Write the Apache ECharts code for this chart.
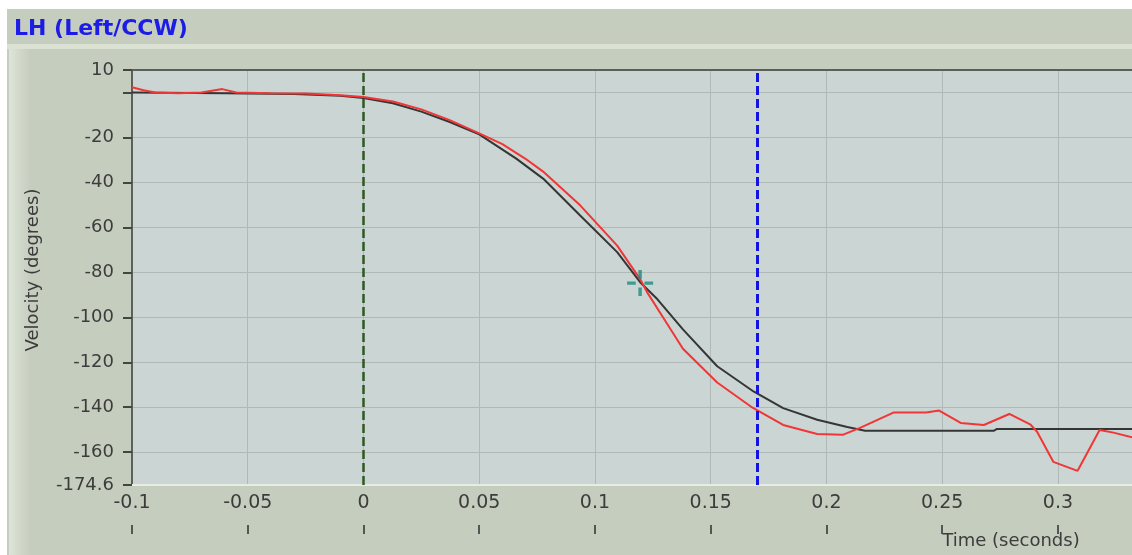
<!DOCTYPE html>
<html>
<head>
<meta charset="utf-8">
<script src="https://cdn.jsdelivr.net/npm/echarts@6/dist/echarts.min.js"></script>
<style>html,body{margin:0;padding:0;background:#fff;}#c{width:1132px;height:555px;}</style>
</head>
<body>
<div id="c"></div>
<script>
// ---- data ----
const redT = [-0.1, -0.095, -0.09, -0.08, -0.07, -0.061, -0.055, -0.04, -0.025, -0.01, 0, 0.0127, 0.025, 0.037, 0.05, 0.06, 0.07, 0.0776, 0.0936, 0.1096, 0.1195, 0.1225, 0.13, 0.138, 0.1528, 0.1675, 0.1813, 0.196, 0.207, 0.2145, 0.2289, 0.243, 0.2487, 0.258, 0.268, 0.279, 0.288, 0.291, 0.298, 0.3085, 0.318, 0.324, 0.332];
const redV = [2.3, 1, 0, -0.3, 0, 1.5, 0, -0.3, -0.5, -1.2, -2, -4, -7.5, -12.2, -18.2, -23, -29.5, -35.2, -50.2, -68.1, -83, -88.8, -101, -114, -129, -139.8, -147.9, -151.9, -152.3, -149.2, -142.4, -142.4, -141.5, -147, -147.9, -143, -147.6, -150.9, -164.3, -168.3, -150.1, -151.3, -153.4];
const blackT = [-0.1, -0.06, -0.03, -0.01, 0, 0.0127, 0.025, 0.037, 0.05, 0.066, 0.0776, 0.0936, 0.1096, 0.1195, 0.127, 0.138, 0.1528, 0.1685, 0.1813, 0.196, 0.209, 0.2167, 0.2722, 0.2735, 0.332];
const blackV = [0, -0.3, -0.7, -1.5, -2.5, -4.8, -8.5, -13, -18.6, -29.4, -38.3, -54.7, -71, -84.4, -92, -105.4, -121.8, -133, -140.4, -145.6, -148.8, -150.5, -150.5, -149.7, -149.7];
const cursorPoint = [0.1195, -84.8];
const markerLines = [0, 0.17];          // green (t=0), blue (cursor)
const xTicks = [-0.1, -0.05, 0, 0.05, 0.1, 0.15, 0.2, 0.25, 0.3];
const xRange = [-0.1, 0.332];
const yRange = [-174.6, 10];
const titleText = 'LH (Left/CCW)';
const xName = 'Time (seconds)';
const yName = 'Velocity (degrees)';

const redData = redT.map((t, i) => [t, redV[i]]);
const blackData = blackT.map((t, i) => [t, blackV[i]]);

const chart = echarts.init(document.getElementById('c'));
const FONT = 'DejaVu Sans';
const gridCol = '#b1b9b7';

chart.setOption({
  animation: false,
  backgroundColor: '#c5cdbf',
  grid: {
    left: 132, right: 0, top: 70, bottom: 70,
    show: true, backgroundColor: '#cbd5d3', borderWidth: 0,
    containLabel: false, outerBoundsMode: 'none'
  },
  graphic: { elements: [
    { type: 'rect', shape: { x: 0, y: 0, width: 1132, height: 9 }, style: { fill: '#ffffff' }, silent: true },
    { type: 'rect', shape: { x: 0, y: 0, width: 7, height: 555 }, style: { fill: '#ffffff' }, silent: true },
    { type: 'rect', shape: { x: 7, y: 44, width: 1125, height: 5 }, style: { fill: '#dbe2d3' }, silent: true },
    { type: 'rect', shape: { x: 9, y: 49, width: 22, height: 506 }, silent: true,
      style: { fill: new echarts.graphic.LinearGradient(0, 0, 1, 0, [
        { offset: 0, color: '#dde4d8' }, { offset: 1, color: '#c5cdbf' }]) } },
    { type: 'text', x: 14, y: 29, silent: true,
      style: { text: titleText, font: 'bold 22px "DejaVu Sans"', fill: '#1c1ce6', align: 'left', verticalAlign: 'middle' } },
    { type: 'text', x: 1011, y: 541, silent: true,
      style: { text: xName, font: '18px "DejaVu Sans"', fill: '#3c3c3c', align: 'center', verticalAlign: 'middle' } },
    { type: 'text', x: 33, y: 270, rotation: Math.PI / 2, silent: true,
      style: { text: yName, font: '18px "DejaVu Sans"', fill: '#3c3c3c', align: 'center', verticalAlign: 'middle' } }
  ] },
  xAxis: [
    {
      type: 'value', min: xRange[0], max: xRange[1], interval: 0.05, position: 'bottom',
      axisLine: { show: true, onZero: false, lineStyle: { color: '#e6ece4', width: 2 } },
      axisTick: { show: false },
      axisLabel: {
        margin: 9, fontSize: 19, fontFamily: FONT, color: '#3c3c3c', showMaxLabel: false,
        formatter: v => (xTicks.some(t => Math.abs(t - v) < 1e-6) ? String(Math.round(v * 100) / 100) : '')
      },
      splitLine: { show: true, lineStyle: { color: gridCol, width: 1 } }
    },
    {
      type: 'value', min: xRange[0], max: xRange[1], interval: 0.05, position: 'bottom', offset: 40,
      axisLine: { show: false, onZero: false },
      axisTick: { show: true, length: 9, customValues: xTicks, lineStyle: { color: '#555', width: 2 } },
      axisLabel: { show: false },
      splitLine: { show: false }
    },
    {
      type: 'value', min: xRange[0], max: xRange[1], position: 'top',
      axisLine: { show: true, onZero: false, lineStyle: { color: '#5a5f5a', width: 2 } },
      axisTick: { show: false }, axisLabel: { show: false }, splitLine: { show: false }
    }
  ],
  yAxis: {
    type: 'value', min: yRange[0], max: yRange[1], splitNumber: 9,
    axisLine: { show: true, onZero: false, lineStyle: { color: '#5c605c', width: 2 } },
    axisTick: { show: true, length: 9, lineStyle: { color: '#444', width: 2 } },
    axisLabel: {
      margin: 18, fontSize: 18, fontFamily: FONT, color: '#3c3c3c',
      formatter: v => (Math.abs(v) < 1e-9 ? '' : String(Math.round(v * 10) / 10))
    },
    splitLine: { show: true, lineStyle: { color: gridCol, width: 1 } }
  },
  series: [
    {
      type: 'line', name: 'model', data: blackData, xAxisIndex: 0, showSymbol: false, symbol: 'none',
      lineStyle: { color: '#353535', width: 2 }, z: 3
    },
    {
      type: 'line', name: 'measured', data: redData, xAxisIndex: 0, showSymbol: false, symbol: 'none',
      lineStyle: { color: '#f03636', width: 2 }, z: 4,
      markLine: {
        silent: true, symbol: 'none', label: { show: false },
        data: [
          { xAxis: markerLines[0], lineStyle: { color: '#2c5a22', width: 2.5, type: [9, 4] } },
          { xAxis: markerLines[1], lineStyle: { color: '#1414e0', width: 3, type: [9, 4] } }
        ]
      }
    },
    {
      type: 'scatter', name: 'cursor', data: [cursorPoint], xAxisIndex: 0, z: 6,
      symbol: 'path://M-1.6,-12h3.2v8h-3.2z M-1.6,4h3.2v8h-3.2z M-12,-1.6h8v3.2h-8z M4,-1.6h8v3.2h-8z',
      symbolSize: 26, itemStyle: { color: '#1a8c80' }
    }
  ]
});
</script>
</body>
</html>
